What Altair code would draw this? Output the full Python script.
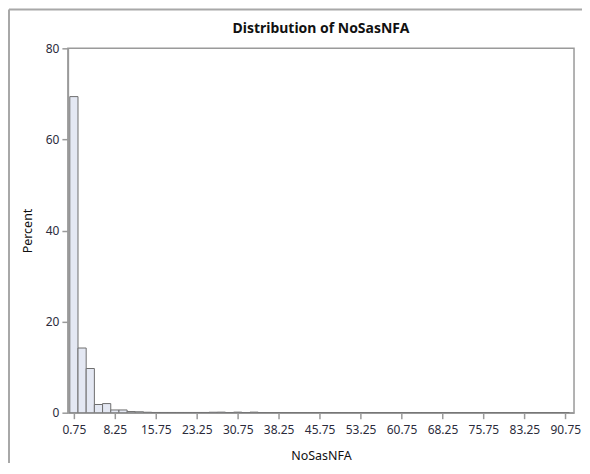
import altair as alt
import pandas as pd

# Bin midpoints (bin width 1.5)
midpoints = [0.75, 2.25, 3.75, 5.25, 6.75, 8.25, 9.75, 11.25, 12.75, 14.25,
             15.75, 17.25, 18.75, 20.25, 21.75, 23.25, 24.75, 26.25, 27.75, 29.25,
             30.75, 32.25, 33.75, 35.25, 36.75, 38.25, 39.75, 41.25, 42.75, 44.25,
             45.75, 47.25, 48.75, 50.25, 51.75, 53.25, 54.75, 56.25, 57.75, 59.25,
             60.75, 62.25, 63.75, 65.25, 66.75, 68.25, 69.75, 71.25, 72.75, 74.25,
             75.75, 77.25, 78.75, 80.25, 81.75, 83.25, 84.75, 86.25, 87.75, 89.25,
             90.75]
percent = [69.4, 14.2, 9.7, 1.8, 2.0, 0.6, 0.6, 0.25, 0.2, 0.1,
           0.05, 0.05, 0.05, 0.05, 0.05, 0.05, 0.05, 0.1, 0.12, 0.03,
           0.12, 0.03, 0.12, 0.03, 0.0, 0.0, 0.0, 0.0, 0.0, 0.0,
           0.0, 0.0, 0.0, 0.0, 0.0, 0.0, 0.0, 0.0, 0.0, 0.0,
           0.0, 0.0, 0.0, 0.0, 0.0, 0.0, 0.0, 0.0, 0.0, 0.0,
           0.0, 0.0, 0.0, 0.0, 0.0, 0.0, 0.0, 0.0, 0.0, 0.0,
           0.0]
bin_width = 1.5
x_ticks = [0.75, 8.25, 15.75, 23.25, 30.75, 38.25, 45.75, 53.25, 60.75,
           68.25, 75.75, 83.25, 90.75]
y_ticks = [0, 20, 40, 60, 80]

df = pd.DataFrame({"mid": midpoints, "pct": percent})

W, H = 507, 365
FONT = "Noto Sans"
LABEL_COLOR = "#2b2b3b"
FRAME = "#9a9a9a"

bars = alt.Chart(df).transform_calculate(
    lo=f"datum.mid - {bin_width}/2",
    hi=f"datum.mid + {bin_width}/2",
).mark_bar(
    fill="#e4e8f3", stroke="#6e6e6e", strokeWidth=1, clip=True
).encode(
    x=alt.X("lo:Q",
            scale=alt.Scale(domain=[-0.35, 92.35], nice=False, zero=False),
            axis=alt.Axis(values=x_ticks, format=".2f", title="NoSasNFA",
                          grid=False, tickSize=6, labelPadding=6,
                          titlePadding=14)),
    x2="hi:Q",
    y=alt.Y("pct:Q",
            scale=alt.Scale(domain=[0, 80], nice=False),
            axis=alt.Axis(values=y_ticks, title="Percent", grid=False,
                          tickSize=6, labelPadding=3, titlePadding=11)),
    y2=alt.datum(0),
)

outer = alt.Data(values=[{"a": 1}])
frame_left = alt.Chart(outer).mark_rule(color="#a8a8a8", strokeWidth=2).encode(
    x=alt.value(-59), y=alt.value(-39), y2=alt.value(H + 200))
frame_top = alt.Chart(outer).mark_rule(color="#a8a8a8", strokeWidth=2).encode(
    y=alt.value(-39), x=alt.value(-59), x2=alt.value(W + 200))

chart = alt.layer(bars, frame_left, frame_top).properties(
    width=W, height=H,
    title=alt.TitleParams("Distribution of NoSasNFA", fontSize=14,
                          fontWeight="bold", font=FONT, color="#111",
                          offset=-28, anchor="middle", frame="group"),
    autosize=alt.AutoSizeParams(type="none"),
    padding={"left": 60, "top": 40, "right": 8, "bottom": 50},
).configure_view(
    stroke=FRAME, strokeWidth=1.5
).configure_axis(
    labelFont=FONT, titleFont=FONT, labelFontSize=12, titleFontSize=12.5,
    labelColor=LABEL_COLOR, titleColor="#111", titleFontWeight="normal",
    domainColor=FRAME, tickColor=FRAME, domainWidth=1.5, tickWidth=1.5,
)

chart.save("out.html", embed_options={"renderer": "svg", "actions": False})
